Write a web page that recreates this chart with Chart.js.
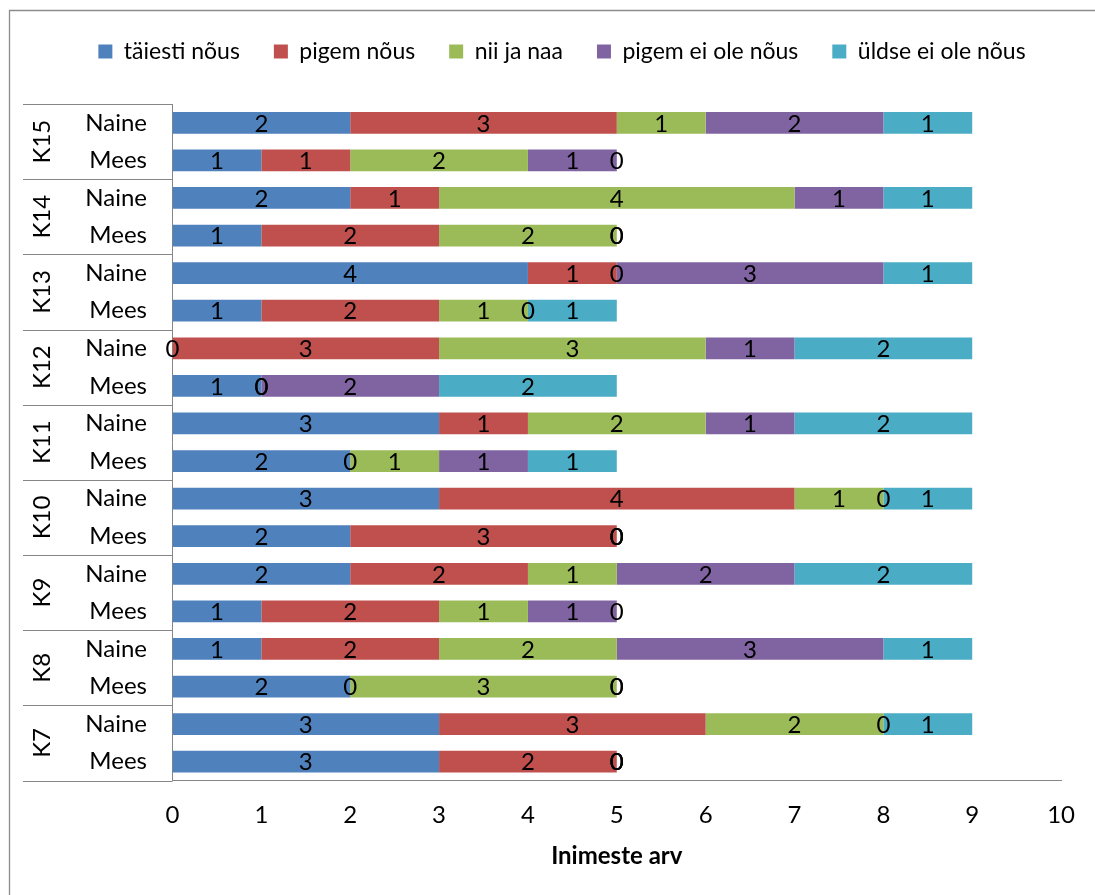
<!DOCTYPE html>
<html>
<head>
<meta charset="utf-8">
<script src="https://cdn.jsdelivr.net/npm/chart.js@4.4.1/dist/chart.umd.min.js"></script>
<style>
  html, body { margin: 0; padding: 0; background: #fff; }
  #wrap { width: 1095px; height: 895px; position: relative; }
</style>
</head>
<body>
<div id="wrap"><canvas id="c" width="1095" height="895"></canvas></div>
<script>
// Question groups, top to bottom
const groups = ['K15', 'K14', 'K13', 'K12', 'K11', 'K10', 'K9', 'K8', 'K7'];
const sexes = ['Naine', 'Mees'];

// Series names (answer options)
const seriesNames = ['täiesti nõus', 'pigem nõus', 'nii ja naa', 'pigem ei ole nõus', 'üldse ei ole nõus'];
const seriesColors = ['#4F81BD', '#C0504D', '#9BBB59', '#8064A2', '#4BACC6'];

// Counts per row: K15 Naine, K15 Mees, K14 Naine, K14 Mees, ... K7 Mees
const taiestiNous  = [2, 1, 2, 1, 4, 1, 0, 1, 3, 2, 3, 2, 2, 1, 1, 2, 3, 3];
const pigemNous    = [3, 1, 1, 2, 1, 2, 3, 0, 1, 0, 4, 3, 2, 2, 2, 0, 3, 2];
const niiJaNaa     = [1, 2, 4, 2, 0, 1, 3, 0, 2, 1, 1, 0, 1, 1, 2, 3, 2, 0];
const pigemEiOle   = [2, 1, 1, 0, 3, 0, 1, 2, 1, 1, 0, 0, 2, 1, 3, 0, 0, 0];
const uldseEiOle   = [1, 0, 1, 0, 1, 1, 2, 2, 2, 1, 1, 0, 2, 0, 1, 0, 1, 0];

// X axis range
const xMin = 0, xMax = 10, xStep = 1;

const rowLabels = [];
groups.forEach(() => sexes.forEach(s => rowLabels.push(s)));

const seriesValues = [taiestiNous, pigemNous, niiJaNaa, pigemEiOle, uldseEiOle];

const FONT = 'Lato';
const FONT_SIZE = 24;
const AXIS_COLOR = '#868686';

// White page with a grey frame on the left and top
const framePlugin = {
  id: 'frame',
  beforeDraw(chart) {
    const ctx = chart.ctx;
    ctx.save();
    ctx.fillStyle = '#fff';
    ctx.fillRect(0, 0, chart.width, chart.height);
    ctx.strokeStyle = '#8c8c8c';
    ctx.lineWidth = 1.3;
    ctx.beginPath();
    ctx.moveTo(9.5, chart.height);
    ctx.lineTo(9.5, 10.5);
    ctx.lineTo(chart.width, 10.5);
    ctx.stroke();
    ctx.restore();
  }
};

// Extra room between the legend and the plot
const legendGapPlugin = {
  id: 'legendGap',
  afterInit(chart) {
    const lg = chart.legend;
    if (!lg) return;
    const fit = lg.fit;
    lg.fit = function () {
      fit.call(this);
      this.height += 31;
    };
  }
};

// Two-level category axis: group separators and rotated group names
const groupAxisPlugin = {
  id: 'groupAxis',
  afterDraw(chart) {
    const ctx = chart.ctx;
    const area = chart.chartArea;
    const rowH = (area.bottom - area.top) / rowLabels.length;
    const x0 = 23;
    ctx.save();
    ctx.strokeStyle = AXIS_COLOR;
    ctx.lineWidth = 1;
    ctx.beginPath();
    for (let g = 0; g <= groups.length; g++) {
      const yy = Math.round(area.top + g * sexes.length * rowH) + 0.5;
      ctx.moveTo(x0, yy);
      ctx.lineTo(area.left, yy);
    }
    ctx.stroke();
    ctx.fillStyle = '#000';
    ctx.font = FONT_SIZE + 'px ' + FONT;
    ctx.textAlign = 'center';
    ctx.textBaseline = 'middle';
    groups.forEach((g, i) => {
      const cy = area.top + (i + 0.5) * sexes.length * rowH;
      ctx.save();
      ctx.translate(42.5, cy);
      ctx.rotate(-Math.PI / 2);
      ctx.fillText(g, 0, 0);
      ctx.restore();
    });
    ctx.restore();
  }
};

// Value labels centred on each segment (zero-width segments included)
const valueLabelPlugin = {
  id: 'valueLabels',
  afterDatasetsDraw(chart) {
    const ctx = chart.ctx;
    ctx.save();
    ctx.fillStyle = '#000';
    ctx.font = FONT_SIZE + 'px ' + FONT;
    ctx.textAlign = 'center';
    ctx.textBaseline = 'middle';
    chart.data.datasets.forEach((ds, di) => {
      const meta = chart.getDatasetMeta(di);
      meta.data.forEach((el, i) => {
        const cx = (el.x + el.base) / 2;
        ctx.fillText(String(ds.data[i]), cx, el.y + 1);
      });
    });
    ctx.restore();
  }
};

new Chart(document.getElementById('c'), {
  type: 'bar',
  data: {
    labels: rowLabels,
    datasets: seriesNames.map((name, i) => ({
      label: name,
      data: seriesValues[i],
      backgroundColor: seriesColors[i],
      borderWidth: 0,
      barPercentage: 0.58,
      categoryPercentage: 1.0
    }))
  },
  options: {
    responsive: false,
    animation: false,
    indexAxis: 'y',
    layout: { padding: { left: 62, right: 33, top: 6, bottom: 0 } },
    plugins: {
      legend: {
        position: 'top',
        labels: {
          boxWidth: 14,
          boxHeight: 14,
          padding: 34,
          color: '#000',
          font: { family: FONT, size: 23 }
        }
      },
      tooltip: { enabled: false }
    },
    scales: {
      x: {
        stacked: true,
        min: xMin,
        max: xMax,
        ticks: { stepSize: xStep, color: '#000', font: { family: FONT, size: FONT_SIZE }, padding: 20 },
        grid: { display: false, drawTicks: false },
        border: { display: true, color: AXIS_COLOR, width: 1 },
        title: {
          display: true,
          text: 'Inimeste arv',
          color: '#000',
          font: { family: FONT, size: 24, weight: 'bold' },
          padding: { top: 0, bottom: 24 }
        },
        afterFit(scale) { scale.height = 114.5; }
      },
      y: {
        stacked: true,
        ticks: { color: '#000', font: { family: FONT, size: FONT_SIZE }, padding: 25.5 },
        grid: { display: false, drawTicks: false },
        border: { display: true, color: AXIS_COLOR, width: 1 },
        afterFit(scale) { scale.width = 110.5; }
      }
    }
  },
  plugins: [framePlugin, legendGapPlugin, groupAxisPlugin, valueLabelPlugin]
});
</script>
</body>
</html>
